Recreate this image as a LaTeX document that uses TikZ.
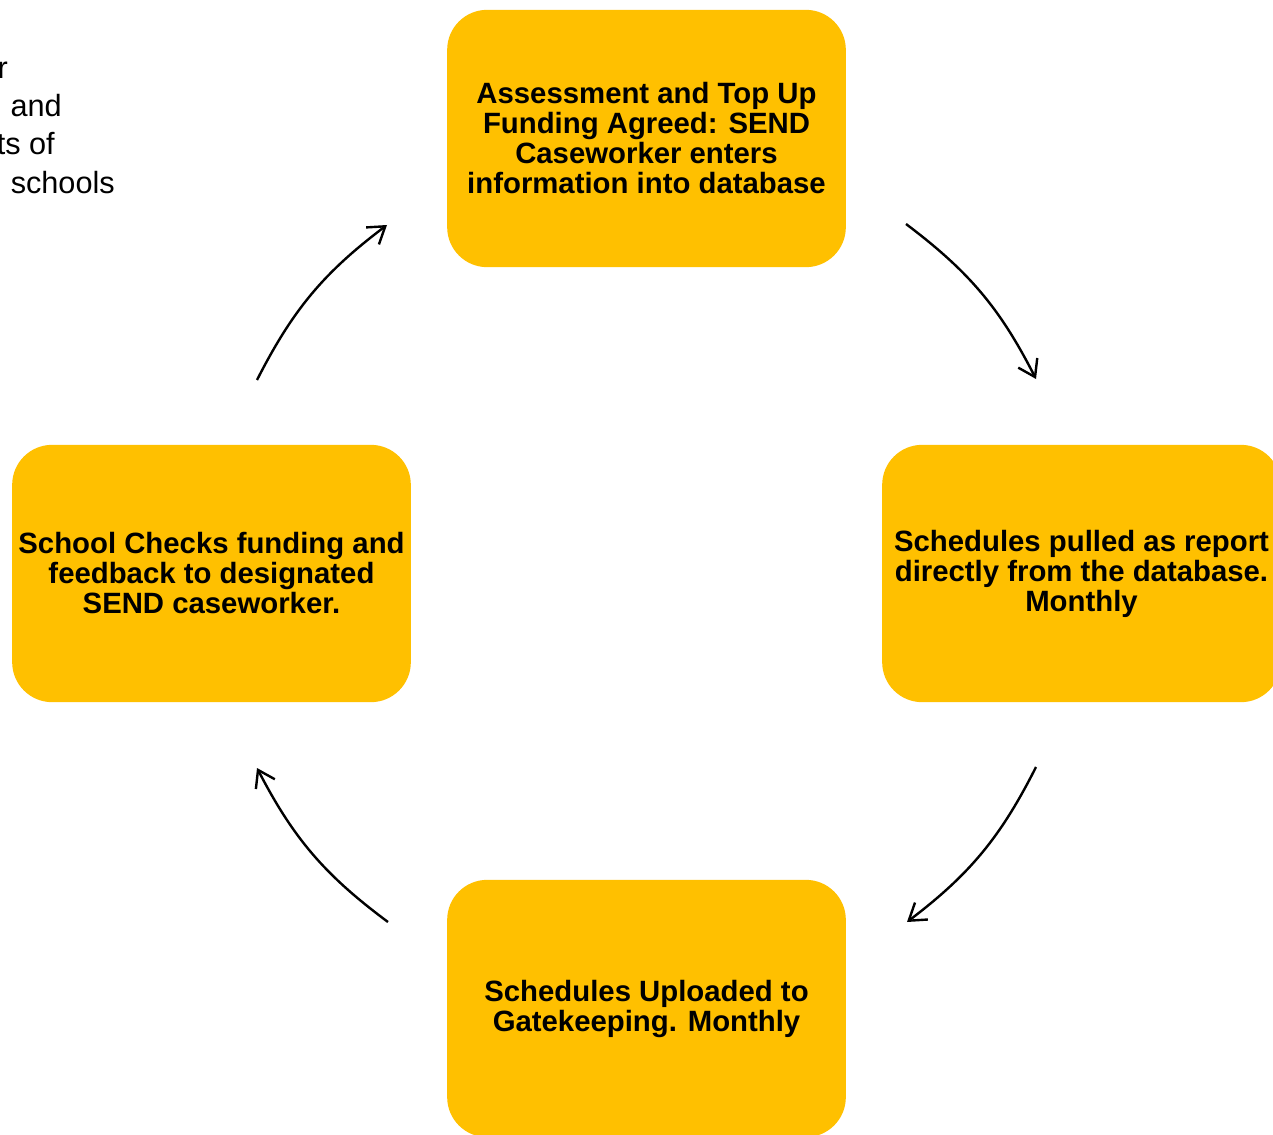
\documentclass[tikz,border=0pt]{standalone}
\usepackage{fontspec}
\setmainfont{Liberation Sans}
\usetikzlibrary{arrows.meta}
\definecolor{gold}{HTML}{FFC000}
\begin{document}
\begin{tikzpicture}[x=0.75pt,y=-0.75pt,
  stepbox/.style={fill=gold,draw=none,rounded corners=30pt,minimum width=299pt,minimum height=193pt,inner sep=0pt,align=center,font=\fontsize{22}{22.5}\selectfont\bfseries},
  sidetext/.style={anchor=base east,inner sep=0pt,font=\fontsize{23}{28}\selectfont},
  cyc/.style={line width=1.8pt,-{Straight Barb[length=12pt,width=16pt,line width=1.8pt]},bend left=13}]
\clip (0,0) rectangle (1273,1134);
\fill[white] (0,0) rectangle (1273,1134);
\node[sidetext] (t1) at (8,79) {r};
\node[sidetext] (t2) at (62,117) {and};
\node[sidetext] (t3) at (55,155) {ts of};
\node[sidetext] (t4) at (115,194) {schools};
\node[stepbox] (top) at (646.5,138.5) {Assessment and Top Up\\Funding Agreed: SEND\\Caseworker enters\\information into database};
\node[stepbox] (right) at (1081.5,573.5) {Schedules pulled as report\\directly from the database.\\Monthly};
\node[stepbox] (bottom) at (646.5,1008.5) {Schedules Uploaded to\\Gatekeeping. Monthly};
\node[stepbox] (left) at (211.5,573.5) {School Checks funding and\\feedback to designated\\SEND caseworker.};
\coordinate (a1s) at (257,380); \coordinate (a1e) at (387,225);
\coordinate (a2s) at (906,224); \coordinate (a2e) at (1036,379);
\coordinate (a3s) at (1036,767); \coordinate (a3e) at (907,922);
\coordinate (a4s) at (388,922); \coordinate (a4e) at (257,768);
\draw[cyc] (a1s) to (a1e);
\draw[cyc] (a2s) to (a2e);
\draw[cyc] (a3s) to (a3e);
\draw[cyc] (a4s) to (a4e);
\end{tikzpicture}
\end{document}
